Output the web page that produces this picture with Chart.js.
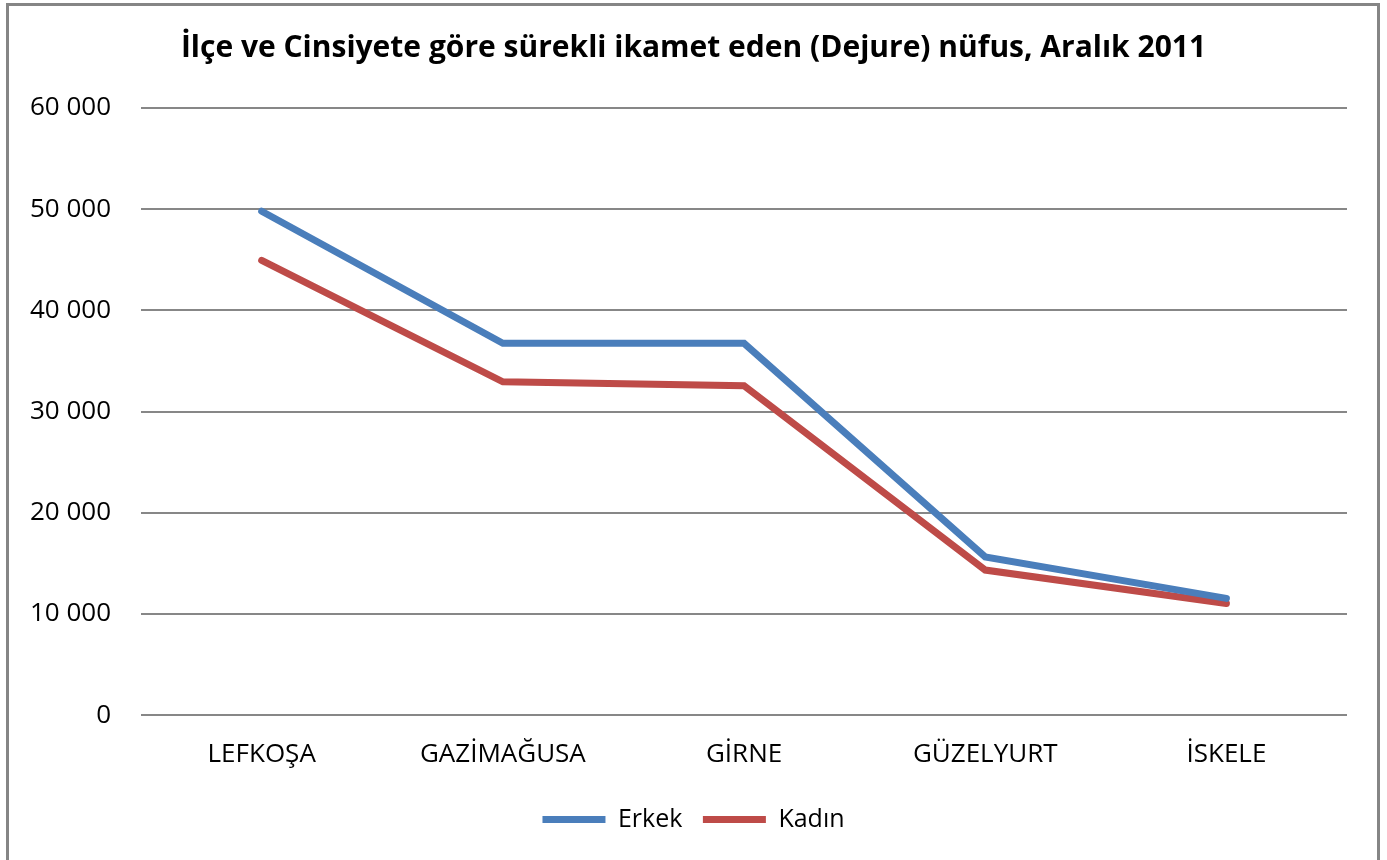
<!DOCTYPE html>
<html>
<head>
<meta charset="utf-8">
<script src="https://cdn.jsdelivr.net/npm/chart.js@4/dist/chart.umd.min.js"></script>
<style>
  html, body { margin: 0; padding: 0; background: #fff; }
  #wrap { position: relative; width: 1387px; height: 860px; overflow: hidden; }
  #frame { position: absolute; left: 6px; top: 3px; width: 1368px; height: 880px; border: 3px solid #858585; box-sizing: content-box; pointer-events: none; }
  canvas { position: absolute; left: 0; top: 0; }
</style>
</head>
<body>
<div id="wrap">
  <canvas id="c" width="1387" height="860"></canvas>
  <div id="frame"></div>
</div>
<script>
const titleText = 'İlçe ve Cinsiyete göre sürekli ikamet eden (Dejure) nüfus, Aralık 2011';
const categories = ['LEFKOŞA', 'GAZİMAĞUSA', 'GİRNE', 'GÜZELYURT', 'İSKELE'];
const erkek = [49800, 36750, 36750, 15650, 11550];
const kadin = [44950, 32950, 32550, 14350, 11050];
const yTickLabels = ['0', '10 000', '20 000', '30 000', '40 000', '50 000', '60 000'];

const FONT = "'Open Sans', sans-serif";

new Chart(document.getElementById('c'), {
  type: 'line',
  data: {
    labels: categories,
    datasets: [
      { label: 'Erkek', data: erkek, borderColor: '#4A7EBB', backgroundColor: '#4A7EBB',
        borderWidth: 7, pointRadius: 0, tension: 0, borderCapStyle: 'round', borderJoinStyle: 'miter' },
      { label: 'Kadın', data: kadin, borderColor: '#BE4B48', backgroundColor: '#BE4B48',
        borderWidth: 7, pointRadius: 0, tension: 0, borderCapStyle: 'round', borderJoinStyle: 'miter' }
    ]
  },
  options: {
    responsive: false,
    animation: false,
    layout: { padding: { left: 0, right: 0, top: 30, bottom: 18 } },
    plugins: {
      title: {
        display: true, text: titleText, color: '#000',
        font: { family: FONT, size: 30, weight: 'bold' },
        padding: { top: 0, bottom: 42 }
      },
      legend: {
        position: 'bottom',
        labels: {
          color: '#000', font: { family: FONT, size: 25 },
          usePointStyle: true, pointStyle: 'line', pointStyleWidth: 63, boxHeight: 7,
          padding: 20.5
        }
      },
      tooltip: { enabled: false }
    },
    scales: {
      x: {
        offset: true,
        grid: { display: false },
        border: { display: false },
        ticks: { color: '#000', font: { family: FONT, size: 26 }, padding: 16, maxRotation: 0 }
      },
      y: {
        min: 0, max: 60000,
        ticks: {
          stepSize: 10000, color: '#000', font: { family: FONT, size: 26 }, padding: 30,
          callback: (v) => yTickLabels[Math.round(v / 10000)]
        },
        grid: { color: '#878787', lineWidth: 2, drawTicks: false },
        border: { display: false }
      },
      yRight: {
        position: 'right',
        grid: { display: false, drawTicks: false },
        border: { display: false },
        ticks: { padding: 20, callback: () => '' }
      }
    }
  }
});
</script>
</body>
</html>
